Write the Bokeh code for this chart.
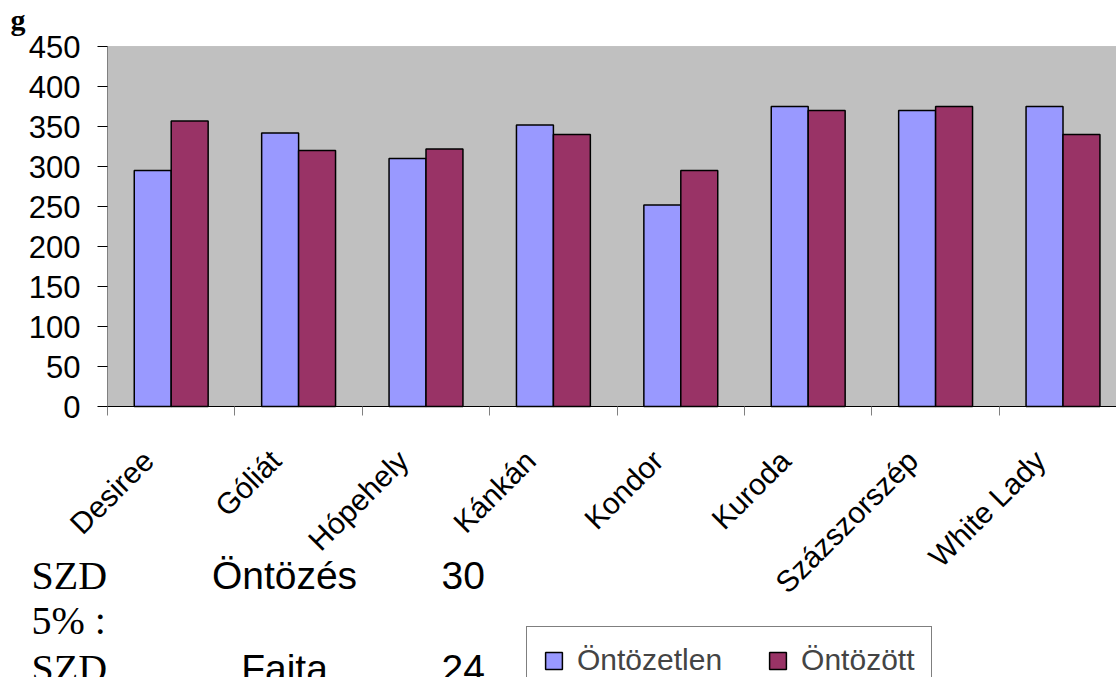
from bokeh.plotting import figure
from bokeh.models import (Range1d, FixedTicker, Label, Legend, LegendItem, ColumnDataSource,
                          BoxAnnotation, CustomJSTickFormatter)
from bokeh.transform import dodge
from bokeh.embed import file_html
from bokeh.resources import INLINE
from math import pi

# ---- data ----
varieties = ["Desiree", "Góliát", "Hópehely", "Kánkán", "Kondor", "Kuroda", "Százszorszép", "White Lady"]
ontozetlen = [295, 342, 310, 352, 252, 375, 370, 375]
ontozott = [357, 320, 322, 340, 295, 370, 375, 340]
series_names = ["Öntözetlen", "Öntözött"]
series_colors = ["#9999FF", "#993366"]
y_ticks = [0, 50, 100, 150, 200, 250, 300, 350, 400, 450]
y_unit = "g"
note_col1 = ["SZD", "5% :", "SZD"]
note_col2 = ["Öntözés", "", "Fajta"]
note_col3 = ["30", "", "24"]

# ---- layout geometry (canvas px) ----
W, H = 1116, 677
FL, FT, FB = 107, 46, 406      # chart area left / top / bottom
cat_px = 127.4
n = len(varieties)
pos = list(range(n))
X0 = -0.5
Y_MAX = 450
PX_PER_Y = (FB - FT) / Y_MAX


def dx(cx):
    return X0 + (cx - FL) / cat_px


def dy(cy):
    return (FB - cy) / PX_PER_Y


p = figure(width=W, height=H, output_backend="svg", toolbar_location=None,
           x_range=Range1d(dx(0), dx(W)), y_range=Range1d(dy(H), dy(0)))
p.min_border = 0
p.min_border_left = 0
p.min_border_right = 0
p.min_border_top = 0
p.min_border_bottom = 0
p.background_fill_color = "white"
p.border_fill_color = "white"
p.outline_line_color = None
p.xgrid.visible = False
p.ygrid.visible = False

# plot area (grey)
p.add_layout(BoxAnnotation(left=X0, bottom=0, top=Y_MAX, fill_color="#C0C0C0", fill_alpha=1,
                           line_color="#808080", line_width=1, level="underlay"))

src = ColumnDataSource(dict(pos=pos, a=ontozetlen, b=ontozott))
bw = 0.29
r1 = p.vbar(x=dodge("pos", -bw / 2), top="a", bottom=0, width=bw, source=src,
            fill_color=series_colors[0], line_color="black", line_width=1.5)
r2 = p.vbar(x=dodge("pos", bw / 2), top="b", bottom=0, width=bw, source=src,
            fill_color=series_colors[1], line_color="black", line_width=1.5)

font = "Liberation Sans"
# y axis
ya = p.yaxis[0]
ya.fixed_location = X0
ya.bounds = (0, Y_MAX)
ya.ticker = FixedTicker(ticks=y_ticks, minor_ticks=[])
ya.major_label_text_font = font
ya.major_label_text_font_size = "31px"
ya.major_label_text_color = "black"
ya.major_tick_out = 10
ya.major_tick_in = 0
ya.major_tick_line_color = "black"
ya.major_label_standoff = 17
ya.axis_line_color = "#808080"
ya.minor_tick_line_color = None

# x axis
lab_shift = 0.18
xa = p.xaxis[0]
xa.fixed_location = 0
xa.bounds = (X0, dx(W))
xa.ticker = FixedTicker(ticks=[i - lab_shift for i in pos],
                        minor_ticks=[i - 0.5 for i in range(n + 1)])
xa.formatter = CustomJSTickFormatter(args=dict(names=varieties, shift=lab_shift),
                                     code="return names[Math.round(tick + shift)] || '';")
xa.major_label_orientation = pi / 4
xa.major_label_text_font = font
xa.major_label_text_font_size = "30px"
xa.major_label_text_color = "black"
xa.major_tick_out = 0
xa.major_tick_in = 0
xa.minor_tick_out = 9
xa.minor_tick_in = 0
xa.minor_tick_line_color = "#808080"
xa.major_label_standoff = 40
xa.axis_line_color = "black"

# unit label
p.add_layout(Label(x=dx(10), y=dy(19), text=y_unit,
                   text_font="Liberation Serif", text_font_style="bold", text_font_size="30px",
                   text_baseline="alphabetic", text_color="black"))

# note texts below chart
baselines = [575, 620, 668]
for k in range(3):
    yb = dy(baselines[k])
    p.add_layout(Label(x=dx(31), y=yb, text=note_col1[k],
                       text_font="Liberation Serif", text_font_size="40px",
                       text_baseline="alphabetic", text_color="black"))
    if note_col2[k]:
        p.add_layout(Label(x=dx(284), y=yb, text=note_col2[k],
                           text_font=font, text_font_size="39px", text_align="center",
                           text_baseline="alphabetic", text_color="black"))
    if note_col3[k]:
        p.add_layout(Label(x=dx(441), y=yb, text=note_col3[k],
                           text_font=font, text_font_size="39px",
                           text_baseline="alphabetic", text_color="black"))

# legend
pad = 16
leg_h = 2 * pad + 34
legend = Legend(items=[LegendItem(label=series_names[0], renderers=[r1]),
                       LegendItem(label=series_names[1], renderers=[r2])],
                orientation="horizontal", location=(526, H - (628 + leg_h)),
                padding=pad, spacing=45, label_standoff=13, glyph_width=21, glyph_height=21,
                label_text_font=font, label_text_font_size="30px",
                border_line_color="black", border_line_width=1, margin=0,
                background_fill_color="white", background_fill_alpha=1)
p.add_layout(legend)

open("out.html", "w").write(file_html(p, INLINE))
